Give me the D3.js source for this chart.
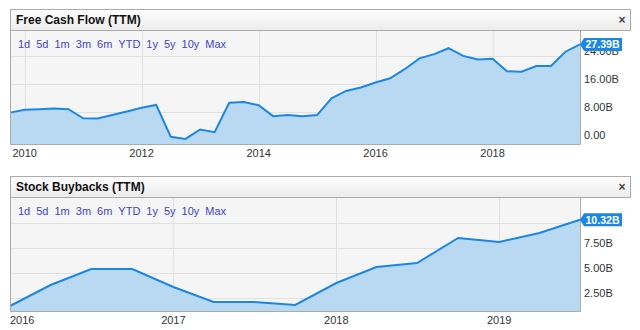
<!DOCTYPE html>
<meta charset="utf-8">
<style>
  body { margin: 0; background: #fff; }
  text { font-family: Arial, "Liberation Sans", sans-serif; }
</style>
<body>
<svg width="640" height="330"></svg>
<script src="https://d3js.org/d3.v7.min.js"></script>
<script>

// free cash flow, quarterly, billions
var fcfDates = ["2009-10-01","2010-01-01","2010-04-01","2010-07-01","2010-10-01",
  "2011-01-01","2011-04-01","2011-07-01","2011-10-01","2012-01-01","2012-04-01",
  "2012-07-01","2012-10-01","2013-01-01","2013-04-01","2013-07-01","2013-10-01",
  "2014-01-01","2014-04-01","2014-07-01","2014-10-01","2015-01-01","2015-04-01",
  "2015-07-01","2015-10-01","2016-01-01","2016-04-01","2016-07-01","2016-10-01",
  "2017-01-01","2017-04-01","2017-07-01","2017-10-01","2018-01-01","2018-04-01",
  "2018-07-01","2018-10-01","2019-01-01","2019-04-01","2019-07-01"];
var fcfValues = [7.9, 8.7, 8.9, 9.1, 8.9, 6.3, 6.2, 7.2, 8.2, 9.3, 10.1,
  1.0, 0.4, 3.1, 2.3, 10.7, 10.9, 10.0, 6.9, 7.2, 6.9, 7.2, 12.0,
  14.1, 15.1, 16.5, 17.7, 20.3, 23.4, 24.6, 26.3, 24.1, 23.1, 23.3, 19.7,
  19.6, 21.2, 21.2, 25.3, 27.39];
var fcfYTicks = [0, 8, 16, 24];
var fcfYLabels = [0, 8, 16, 24];
var fcfXTicks = ["2010", "2012", "2014", "2016", "2018"];

// stock buybacks, quarterly, billions
var bbDates = ["2016-01-01","2016-04-01","2016-07-01","2016-10-01","2017-01-01",
  "2017-04-01","2017-07-01","2017-10-01","2018-01-01","2018-04-01","2018-07-01",
  "2018-10-01","2019-01-01","2019-04-01","2019-07-01"];
var bbValues = [1.7, 3.8, 5.4, 5.4, 3.6, 2.1, 2.1, 1.8, 4.0, 5.6, 6.0, 8.5, 8.1, 9.0, 10.32];
var bbYTicks = [2.5, 5, 7.5, 10];
var bbYLabels = [2.5, 5, 7.5];   // 10.00B sits under the badge
var bbXTicks = ["2016", "2017", "2018", "2019"];

var rangeLinks = ["1d", "5d", "1m", "3m", "6m", "YTD", "1y", "5y", "10y", "Max"];

var parse = d3.timeParse("%Y-%m-%d");
var parseYear = d3.timeParse("%Y");
var svg = d3.select("svg");

var defs = svg.append("defs");
var grad = defs.append("linearGradient").attr("id", "hdr")
  .attr("x1", 0).attr("y1", 0).attr("x2", 0).attr("y2", 1);
grad.append("stop").attr("offset", "0%").attr("stop-color", "#fdfdfd");
grad.append("stop").attr("offset", "100%").attr("stop-color", "#ececec");

function drawPanel(top, title, dates, values, yDomain, yTicks, yLabels, xTicks, fmt) {
  var left = 10, right = 580, boxRight = 630;
  var hdrH = 21, plotTop = top + hdrH, plotBottom = plotTop + 114;
  var g = svg.append("g");

  var data = dates.map(function(d, i) { return {date: parse(d), value: values[i]}; });
  var x = d3.scaleTime()
    .domain([data[0].date, data[data.length - 1].date])
    .range([left, right]);
  var y = d3.scaleLinear().domain(yDomain).range([plotBottom, plotTop]);

  // plot background
  g.append("rect").attr("x", left).attr("y", plotTop)
    .attr("width", right - left).attr("height", plotBottom - plotTop)
    .attr("fill", "#f5f5f5");

  // grid
  g.selectAll(".hg").data(yTicks).enter().append("line")
    .attr("x1", left).attr("x2", right)
    .attr("y1", function(d) { return Math.round(y(d)) + 0.5; })
    .attr("y2", function(d) { return Math.round(y(d)) + 0.5; })
    .attr("stroke", "#e0e0e0");
  g.selectAll(".vg").data(xTicks).enter().append("line")
    .attr("x1", function(d) { return Math.round(x(parseYear(d))) + 0.5; })
    .attr("x2", function(d) { return Math.round(x(parseYear(d))) + 0.5; })
    .attr("y1", plotTop).attr("y2", plotBottom)
    .attr("stroke", "#e0e0e0");

  // area + line
  var area = d3.area()
    .x(function(d) { return x(d.date); })
    .y0(plotBottom)
    .y1(function(d) { return y(d.value); });
  var line = d3.line()
    .x(function(d) { return x(d.date); })
    .y(function(d) { return y(d.value); });
  g.append("path").datum(data).attr("d", area)
    .attr("fill", "#b5d7f2").attr("fill-opacity", 0.95);
  g.append("path").datum(data).attr("d", line)
    .attr("fill", "none").attr("stroke", "#1b87e3").attr("stroke-width", 2)
    .attr("stroke-linejoin", "miter");

  // plot border
  g.append("path")
    .attr("d", "M" + (left + 0.5) + "," + plotTop + "V" + (plotBottom + 0.5) +
      "H" + (right + 0.5) + "V" + plotTop)
    .attr("fill", "none").attr("stroke", "#ababab");

  // header
  g.append("rect").attr("x", left + 0.5).attr("y", top + 0.5)
    .attr("width", boxRight - left).attr("height", hdrH)
    .attr("fill", "url(#hdr)").attr("stroke", "#ababab");
  g.append("text").attr("x", 16).attr("y", top + 15)
    .attr("font-size", 12).attr("font-weight", "bold").attr("fill", "#111")
    .text(title);
  g.append("text").attr("x", 622).attr("y", top + 15)
    .attr("text-anchor", "middle")
    .attr("font-size", 12).attr("font-weight", "bold").attr("fill", "#444")
    .text("\u00d7");

  // range links
  var lx = 18;
  rangeLinks.forEach(function(t) {
    var tx = g.append("text").attr("x", lx).attr("y", top + 39)
      .attr("font-size", 11).attr("fill", "#4444c8").text(t);
    lx += tx.node().getComputedTextLength() + 6;
  });

  // x axis labels
  g.selectAll(".xl").data(xTicks).enter().append("text")
    .attr("x", function(d) { return Math.max(x(parseYear(d)), left); })
    .attr("y", plotBottom + 13)
    .attr("text-anchor", function(d) { return x(parseYear(d)) - 12 < left ? "start" : "middle"; })
    .attr("font-size", 11).attr("fill", "#333")
    .text(function(d) { return d; });

  // y axis labels
  g.selectAll(".yl").data(yLabels).enter().append("text")
    .attr("x", right + 4).attr("y", function(d) { return y(d) - 1; })
    .attr("font-size", 11).attr("fill", "#333")
    .text(function(d) { return d === 0 ? "0.00" : d3.format(".2f")(d) + "B"; });

  // last value badge
  var last = data[data.length - 1];
  var by = y(last.value);
  var bx = x(last.date);
  g.append("path")
    .attr("d", "M" + bx + "," + by + "L" + (bx + 4) + "," + (by - 6.5) + "H" + 622 +
      "V" + (by + 6.5) + "H" + (bx + 4) + "Z")
    .attr("fill", "#1b87e3");
  g.append("text").attr("x", bx + 5.5).attr("y", by + 4)
    .attr("font-size", 11).attr("font-weight", "bold").attr("fill", "#fff")
    .attr("textLength", 34).attr("lengthAdjust", "spacingAndGlyphs")
    .text(fmt(last.value));
}

var fmtB = function(v) { return d3.format(".2f")(v) + "B"; };
drawPanel(9, "Free Cash Flow (TTM)", fcfDates, fcfValues, [-1.06, 31.5], fcfYTicks, fcfYLabels, fcfXTicks, fmtB);
drawPanel(176, "Stock Buybacks (TTM)", bbDates, bbValues, [1.2, 12.6], bbYTicks, bbYLabels, bbXTicks, fmtB);

</script>
</body>
